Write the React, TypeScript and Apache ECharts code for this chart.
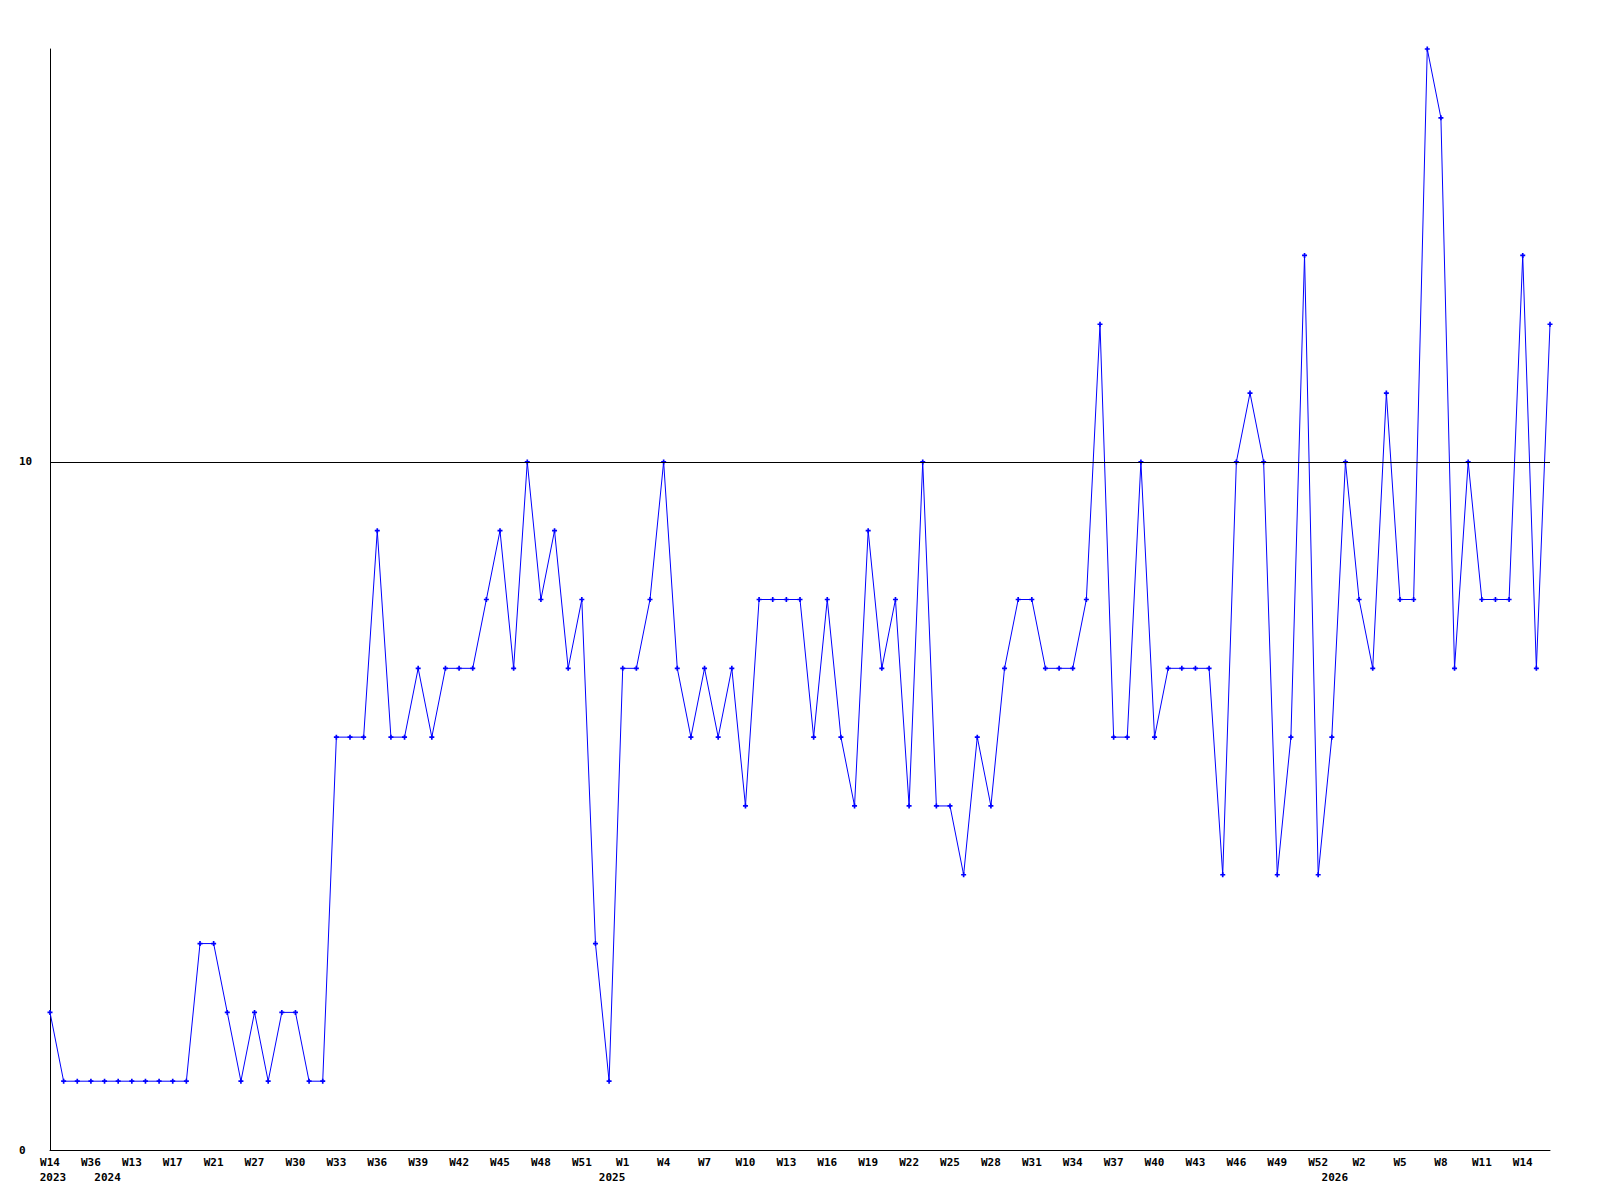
import React, { useEffect, useRef } from "react";
import * as echarts from "echarts";

const weeks: string[] = [
  "W14", "W20", "W28", "W36", "W2", "W9", "W13", "W14", "W16", "W17",
  "W18", "W20", "W21", "W23", "W25", "W27", "W28", "W29", "W30", "W31",
  "W32", "W33", "W34", "W35", "W36", "W37", "W38", "W39", "W40", "W41",
  "W42", "W43", "W44", "W45", "W46", "W47", "W48", "W49", "W50", "W51",
  "W52", "W0", "W1", "W2", "W3", "W4", "W5", "W6", "W7", "W8",
  "W9", "W10", "W11", "W12", "W13", "W14", "W15", "W16", "W17", "W18",
  "W19", "W20", "W21", "W22", "W23", "W24", "W25", "W26", "W27", "W28",
  "W29", "W30", "W31", "W32", "W33", "W34", "W35", "W36", "W37", "W38",
  "W39", "W40", "W41", "W42", "W43", "W44", "W45", "W46", "W47", "W48",
  "W49", "W50", "W51", "W52", "W0", "W1", "W2", "W3", "W4", "W5",
  "W6", "W7", "W8", "W9", "W10", "W11", "W12", "W13", "W14", "W15",
  "W16",
];

// first category index of each year and its label
const yearStarts: [number, string][] = [
  [0, "2023"],
  [4, "2024"],
  [41, "2025"],
  [94, "2026"],
];

const values: number[] = [
  2, 1, 1, 1, 1, 1, 1, 1, 1, 1,
  1, 3, 3, 2, 1, 2, 1, 2, 2, 1,
  1, 6, 6, 6, 9, 6, 6, 7, 6, 7,
  7, 7, 8, 9, 7, 10, 8, 9, 7, 8,
  3, 1, 7, 7, 8, 10, 7, 6, 7, 6,
  7, 5, 8, 8, 8, 8, 6, 8, 6, 5,
  9, 7, 8, 5, 10, 5, 5, 4, 6, 5,
  7, 8, 8, 7, 7, 7, 8, 12, 6, 6,
  10, 6, 7, 7, 7, 7, 4, 10, 11, 10,
  4, 6, 13, 4, 6, 10, 8, 7, 11, 8,
  8, 16, 15, 7, 10, 8, 8, 8, 13, 7,
  12,
];

const yTickLabels: number[] = [0, 10];
const refLineValue = 10;

const FONT = "'DejaVu Sans Mono', 'Liberation Mono', monospace";

export default function App() {
  const ref = useRef<HTMLDivElement>(null);

  useEffect(() => {
    if (!ref.current) return;
    const chart = echarts.init(ref.current, undefined, { renderer: "svg" });
    const yearMap = new Map<number, string>(yearStarts);

    chart.setOption({
      animation: false,
      backgroundColor: "#ffffff",
      grid: { left: 50, right: 50, top: 49, bottom: 50, containLabel: false },
      xAxis: [
        {
          type: "category",
          data: weeks,
          boundaryGap: false,
          axisLine: { show: true, lineStyle: { color: "#000", width: 1 } },
          axisTick: { show: false },
          splitLine: { show: false },
          axisLabel: {
            interval: 2,
            margin: 7,
            color: "#000",
            fontFamily: FONT,
            fontWeight: "bold",
            fontSize: 11,
          },
        },
        {
          type: "category",
          data: weeks,
          boundaryGap: false,
          position: "bottom",
          offset: 15,
          axisLine: { show: false },
          axisTick: { show: false },
          splitLine: { show: false },
          axisLabel: {
            interval: (index: number) => yearMap.has(index),
            formatter: (_v: string, index: number) => yearMap.get(index) ?? "",
            margin: 7,
            padding: [0, 0, 0, 6],
            color: "#000",
            fontFamily: FONT,
            fontWeight: "bold",
            fontSize: 11,
          },
        },
      ],
      yAxis: {
        type: "value",
        min: 0,
        max: 16,
        interval: 10,
        axisLine: { show: true, lineStyle: { color: "#000", width: 1 } },
        axisTick: { show: false },
        splitLine: { show: false },
        axisLabel: {
          showMaxLabel: false,
          align: "left",
          margin: 31,
          color: "#000",
          fontFamily: FONT,
          fontWeight: "bold",
          fontSize: 11,
          formatter: (v: number) => (yTickLabels.includes(v) ? String(v) : ""),
        },
      },
      series: [
        {
          type: "line",
          xAxisIndex: 0,
          data: values,
          symbol: "path://M2,0H4V6H2Z M0,2H6V4H0Z",
          symbolSize: 5,
          showSymbol: true,
          showAllSymbol: true,
          lineStyle: { color: "#0000ff", width: 1 },
          itemStyle: { color: "#0000ff" },
          emphasis: { disabled: true },
          markLine: {
            silent: true,
            symbol: ["none", "none"],
            label: { show: false },
            lineStyle: { color: "#000", width: 1, type: "solid" },
            data: [{ yAxis: refLineValue }],
          },
          z: 2,
        },
      ],
    });

    return () => chart.dispose();
  }, []);

  return (
    <div
      ref={ref}
      style={{ position: "absolute", left: 0, top: 0, width: 1600, height: 1200 }}
    />
  );
}
